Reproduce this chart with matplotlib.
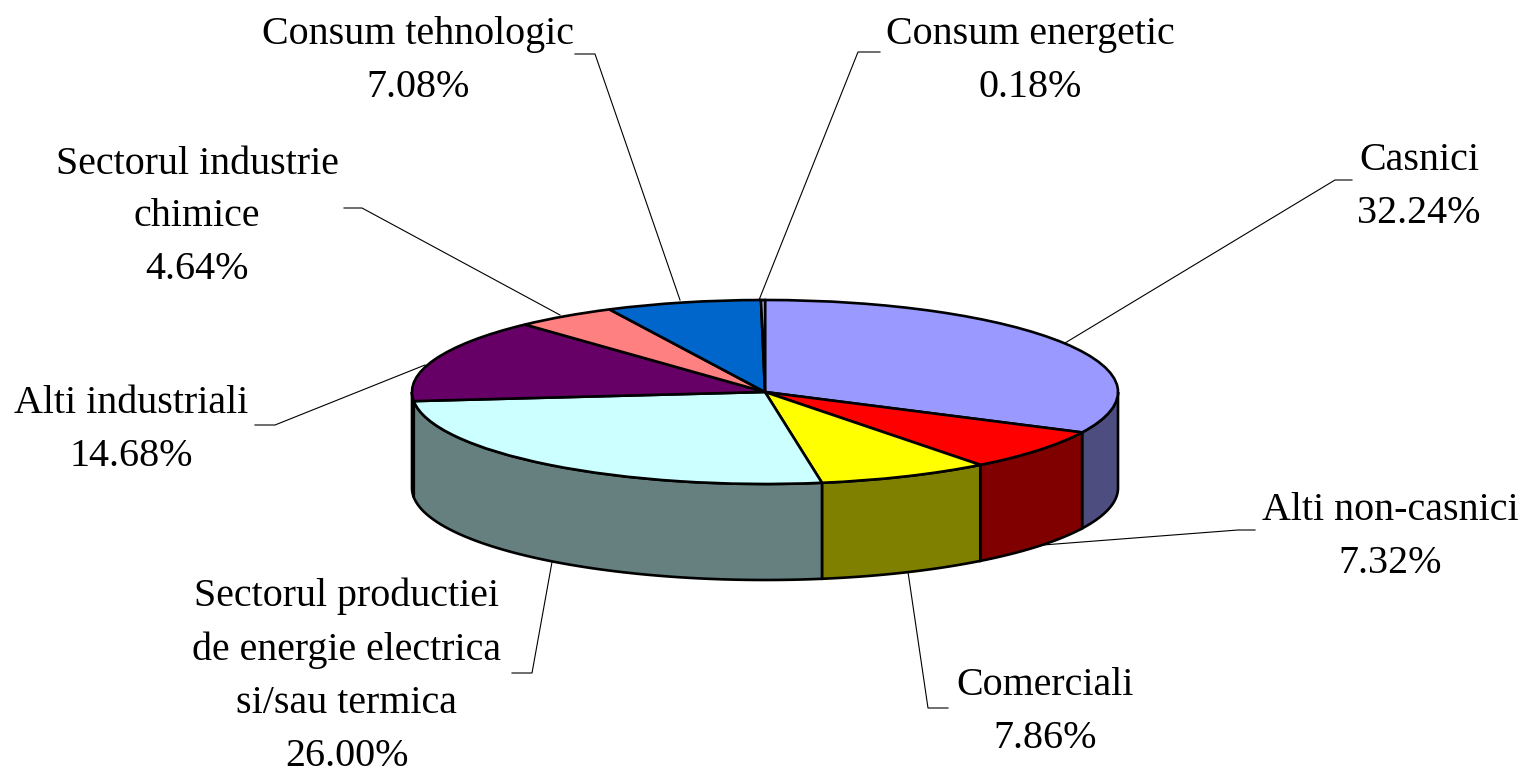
import numpy as np
import matplotlib
matplotlib.use("Agg")
import matplotlib.pyplot as plt
from matplotlib.lines import Line2D

plt.rcParams['font.family'] = ['Liberation Serif', 'DejaVu Serif']

# ==========================================
# Data
# ==========================================

labels = ["Casnici", "Alti non-casnici", "Comerciali",
          "Sectorul productiei\nde energie electrica\nsi/sau termica",
          "Alti industriali", "Sectorul industrie\nchimice",
          "Consum tehnologic", "Consum energetic"]
values = [32.24, 7.32, 7.86, 26.00, 14.68, 4.64, 7.08, 0.18]
top_colors = ["#9999FF", "#FF0000", "#FFFF00", "#CCFFFF",
              "#660066", "#FF8080", "#0066CC", "#CCCCFF"]
side_colors = ["#4D4D80", "#800000", "#808000", "#668080",
               "#330033", "#804040", "#003366", "#666680"]

# ==========================================
# Layout (reference pixels)
# ==========================================

W, H = 1522, 773
CX, CY = 765, 392
RX, RY = 353, 92
DEPTH = 96 / RY

label_pos = [(1419, 187), (1390, 537), (1045, 712), (347, 676),
             (131, 430), (197, 217), (418, 61), (1030, 61)]
leaders = [
    [(1065, 343), (1335, 180), (1352, 180)],
    [(1043, 545), (1238, 530), (1255, 530)],
    [(908, 572), (928, 708), (948, 708)],
    [(552, 562), (532, 673), (512, 673)],
    [(425, 365), (275, 425), (255, 425)],
    [(560, 315), (362, 208), (344, 208)],
    [(680, 300), (595, 54), (575, 54)],
    [(759, 300), (858, 52), (880, 52)],
]


def fig_xy(x, y):
    return x / W, 1 - y / H


fig = plt.figure(figsize=(W / 100, H / 100), dpi=100)
ax = fig.add_axes([0, 0, 1, 1])

# ==========================================
# Pie side walls
# ==========================================

# angles run clockwise from the top, only 90-270 faces the viewer
edges = np.concatenate([[0], np.cumsum(values)]) / sum(values) * 360
for i in range(len(values)):
    a0 = max(edges[i], 90)
    a1 = min(edges[i + 1], 270)
    if a1 <= a0:
        continue
    t = np.radians(np.linspace(a0, a1, 80))
    xs = np.sin(t)
    ys = np.cos(t)
    ax.fill(np.r_[xs, xs[::-1]], np.r_[ys, ys[::-1] - DEPTH],
            facecolor=side_colors[i], edgecolor="black", linewidth=1.9, zorder=1)

# ==========================================
# Pie top
# ==========================================

wedges, _ = ax.pie(values, colors=top_colors, startangle=90, counterclock=False,
                   radius=1, center=(0, 0),
                   wedgeprops={"edgecolor": "black", "linewidth": 1.9, "zorder": 2})

# squash the circle into the ellipse
ax.set_aspect("auto")
ax.set_xlim((0 - CX) / RX, (W - CX) / RX)
ax.set_ylim((CY - H) / RY, CY / RY)
ax.axis("off")

# ==========================================
# Labels and leader lines
# ==========================================

for name, val, pos, pts in zip(labels, values, label_pos, leaders):
    x, y = fig_xy(*pos)
    fig.text(x, y, f"{name}\n{val:.2f}%", ha="center", va="center",
             fontsize=28.8, linespacing=1.57, color="black")
    xy = [fig_xy(*p) for p in pts]
    fig.add_artist(Line2D([p[0] for p in xy], [p[1] for p in xy],
                          color="black", linewidth=0.8))

fig.savefig("out.png", dpi=100)
